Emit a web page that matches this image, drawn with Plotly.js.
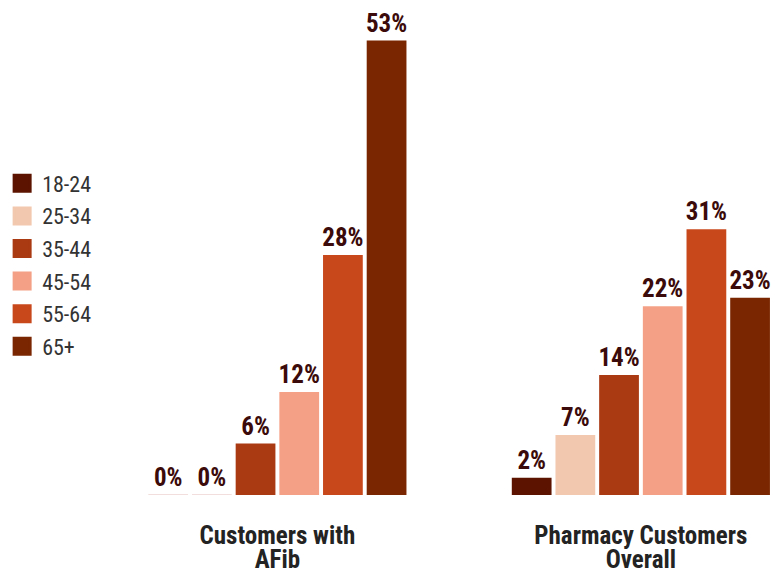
<!DOCTYPE html>
<html>
<head>
<meta charset="utf-8">
<script src="https://cdn.plot.ly/plotly-3.0.1.min.js"></script>
<style>html,body{margin:0;padding:0;background:#fff;}#chart{width:775px;height:569px;}</style>
</head>
<body>
<div id="chart"></div>
<script>
const categories = ["Customers with<br>AFib", "Pharmacy Customers<br>Overall"];
const ageGroups = ["18-24", "25-34", "35-44", "45-54", "55-64", "65+"];
const values18_24 = [0, 2];
const values25_34 = [0, 7];
const values35_44 = [6, 14];
const values45_54 = [12, 22];
const values55_64 = [28, 31];
const values65plus = [53, 23];
const seriesValues = [values18_24, values25_34, values35_44, values45_54, values55_64, values65plus];
const colors = ["#5c1400", "#f2c8ae", "#a93a12", "#f4a086", "#c8481c", "#7a2600"];

const FONT = "Roboto Condensed, Liberation Sans Narrow, DejaVu Sans Condensed, Arial Narrow, sans-serif";

const tickText = categories.map(c =>
  c.split("<br>").map(l => '<span style="font-size:25px">' + l + '</span>').join("<br>")
);

const barTraces = ageGroups.map((name, i) => ({
  type: "bar",
  name: name,
  x: categories,
  y: seriesValues[i],
  showlegend: false,
  legendgroup: "g" + i,
  marker: {
    color: colors[i],
    line: {
      width: seriesValues[i].map(v => v === 0 ? 1 : 0),
      color: "rgba(200,120,110,0.25)"
    }
  },
  texttemplate: "%{y}%",
  textposition: "outside",
  constraintext: "none",
  cliponaxis: false,
  textfont: {family: FONT, size: 25, color: "#3b0a0a", weight: "bold"},
  hoverinfo: "skip"
}));

const legendTraces = ageGroups.map((name, i) => ({
  type: "scatter",
  mode: "markers",
  name: name,
  x: [null],
  y: [null],
  legendgroup: "g" + i,
  marker: {symbol: "square", size: 20, color: colors[i], line: {width: 3, color: colors[i]}},
  hoverinfo: "skip"
}));

const layout = {
  width: 775,
  height: 569,
  margin: {l: 100, r: 0, t: 20, b: 74},
  paper_bgcolor: "#fff",
  plot_bgcolor: "#fff",
  barmode: "group",
  bargap: 0.279,
  bargroupgap: 0.09,
  font: {family: FONT},
  xaxis: {
    type: "category",
    range: [-0.488, 1.369],
    tickvals: categories,
    ticktext: tickText,
    showgrid: false,
    zeroline: false,
    showline: false,
    ticks: "",
    ticklabelstandoff: 29,
    tickfont: {family: FONT, size: 18.5, color: "#232323", weight: "bold"}
  },
  yaxis: {
    range: [0, 55.4],
    showgrid: false,
    zeroline: false,
    showline: false,
    showticklabels: false,
    ticks: ""
  },
  legend: {
    x: -0.145,
    xanchor: "left",
    y: 0.70,
    yanchor: "top",
    font: {family: FONT, size: 22, color: "#333"},
    tracegroupgap: 1,
    itemwidth: 30,
    bgcolor: "rgba(0,0,0,0)"
  },
  showlegend: true
};

Plotly.newPlot("chart", barTraces.concat(legendTraces), layout, {displayModeBar: false, staticPlot: true});
</script>
</body>
</html>
